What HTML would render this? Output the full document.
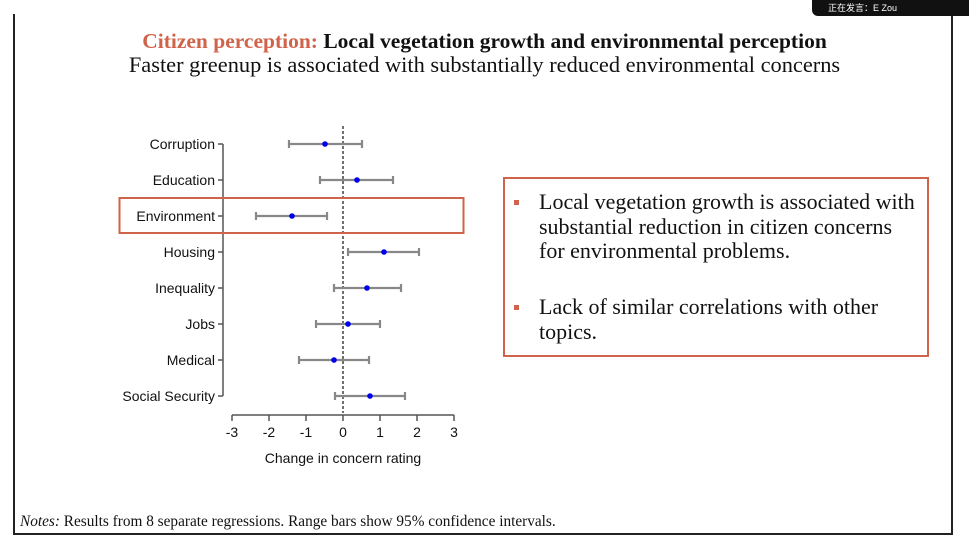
<!DOCTYPE html>
<html><head><meta charset="utf-8"><style>
body{margin:0;width:969px;height:546px;background:#fff;position:relative;overflow:hidden;font-family:"Liberation Serif",serif}
.t{position:absolute;white-space:nowrap}
</style></head><body>
<div style="position:absolute;left:13px;top:14px;width:2px;height:521px;background:#222"></div>
<div style="position:absolute;left:951px;top:14px;width:2px;height:521px;background:#222"></div>
<div style="position:absolute;left:13px;top:533px;width:940px;height:2px;background:#222"></div>
<div style="position:absolute;left:812px;top:0;width:157px;height:16px;background:#111;border-radius:0 0 0 6px"></div>
<div class="t" style="left:828px;top:1px;font:9px 'Liberation Sans','Noto Sans CJK SC',sans-serif;color:#fff">正在发言：E Zou</div>
<div class="t" style="left:0;width:969px;text-align:center;top:29px;font-size:21.5px;font-weight:bold;color:#111"><span style="color:#d0644a">Citizen perception:</span> Local vegetation growth and environmental perception</div>
<div class="t" style="left:0;width:969px;text-align:center;top:52px;font-size:22.4px;color:#111">Faster greenup is associated with substantially reduced environmental concerns</div>
<svg style="position:absolute;left:0;top:0" width="969" height="546" font-family="Liberation Sans, sans-serif">
<g stroke="#555" stroke-width="1.5" fill="none">
<line x1="223" y1="144" x2="223" y2="396"/>
<line x1="232" y1="415" x2="454" y2="415"/>
</g>
<g stroke="#555" stroke-width="1.5">
<line x1="218" y1="144" x2="223" y2="144"/><line x1="218" y1="180" x2="223" y2="180"/><line x1="218" y1="216" x2="223" y2="216"/><line x1="218" y1="252" x2="223" y2="252"/><line x1="218" y1="288" x2="223" y2="288"/><line x1="218" y1="324" x2="223" y2="324"/><line x1="218" y1="360" x2="223" y2="360"/><line x1="218" y1="396" x2="223" y2="396"/>
<line x1="232" y1="415" x2="232" y2="421"/><line x1="269" y1="415" x2="269" y2="421"/><line x1="306" y1="415" x2="306" y2="421"/><line x1="343" y1="415" x2="343" y2="421"/><line x1="380" y1="415" x2="380" y2="421"/><line x1="417" y1="415" x2="417" y2="421"/><line x1="454" y1="415" x2="454" y2="421"/>
</g>
<g font-size="14" fill="#111" text-anchor="end">
<text x="215" y="149">Corruption</text><text x="215" y="185">Education</text><text x="215" y="221">Environment</text><text x="215" y="257">Housing</text><text x="215" y="293">Inequality</text><text x="215" y="329">Jobs</text><text x="215" y="365">Medical</text><text x="215" y="401">Social Security</text>
</g>
<g font-size="14" fill="#111" text-anchor="middle">
<text x="232" y="437">-3</text><text x="269" y="437">-2</text><text x="306" y="437">-1</text><text x="343" y="437">0</text><text x="380" y="437">1</text><text x="417" y="437">2</text><text x="454" y="437">3</text>
<text x="343" y="463">Change in concern rating</text>
</g>
<line x1="343" y1="126" x2="343" y2="413" stroke="#111" stroke-width="1.2" stroke-dasharray="3,2"/>
<g stroke="#888" stroke-width="2.2">
<path d="M289 144H362M289 140V148M362 140V148"/>
<path d="M320 180H393M320 176V184M393 176V184"/>
<path d="M256 216H327M256 212V220M327 212V220"/>
<path d="M348 252H419M348 248V256M419 248V256"/>
<path d="M334 288H401M334 284V292M401 284V292"/>
<path d="M316 324H380M316 320V328M380 320V328"/>
<path d="M299 360H369M299 356V364M369 356V364"/>
<path d="M335 396H405M335 392V400M405 392V400"/>
</g>
<g fill="#0000ee">
<circle cx="325" cy="144" r="2.8"/><circle cx="357" cy="180" r="2.8"/><circle cx="292" cy="216" r="2.8"/><circle cx="384" cy="252" r="2.8"/><circle cx="367" cy="288" r="2.8"/><circle cx="348" cy="324" r="2.8"/><circle cx="334" cy="360" r="2.8"/><circle cx="370" cy="396" r="2.8"/>
</g>
<rect x="119.5" y="198" width="344" height="35" fill="none" stroke="#d0644a" stroke-width="2"/>
<rect x="504" y="178" width="424" height="178" fill="none" stroke="#d0644a" stroke-width="2"/>
<rect x="514" y="200" width="5" height="5" fill="#d0644a"/>
<rect x="514" y="305" width="5" height="5" fill="#d0644a"/>
</svg>
<div class="t" style="left:539px;top:190px;font-size:22px;line-height:24.5px;color:#111">Local vegetation growth is associated with<br>substantial reduction in citizen concerns<br>for environmental problems.</div>
<div class="t" style="left:539px;top:295px;font-size:22px;line-height:24.5px;color:#111">Lack of similar correlations with other<br>topics.</div>
<div class="t" style="left:20px;top:513px;font-size:15.3px;color:#111"><i>Notes:</i> Results from 8 separate regressions. Range bars show 95% confidence intervals.</div>
</body></html>
